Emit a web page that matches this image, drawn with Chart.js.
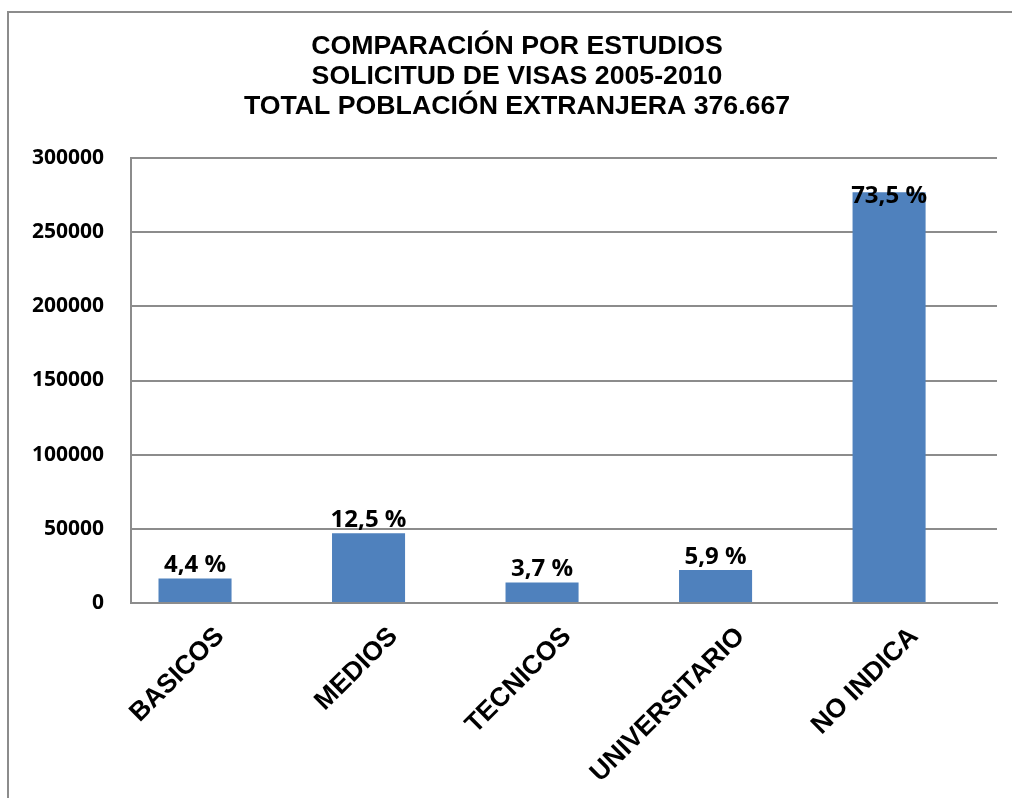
<!DOCTYPE html>
<html lang="es">
<head>
<meta charset="utf-8">
<title>Comparación por estudios</title>
<script src="https://cdn.jsdelivr.net/npm/chart.js@4/dist/chart.umd.min.js"></script>
<style>
    html, body { margin: 0; padding: 0; background: #fff; overflow: hidden; }
    #marco { position: absolute; left: 7px; top: 11px; width: 1100px; height: 900px; border: 2px solid #8c8c8c; pointer-events: none; }
    #contenedor { position: absolute; left: 0; top: 0; width: 1012px; height: 798px; }
</style>
</head>
<body>
<div id="contenedor"><canvas id="grafico"></canvas></div>
<div id="marco"></div>
<script>
// Datos del gráfico
const categorias = ['BASICOS', 'MEDIOS', 'TECNICOS', 'UNIVERSITARIO', 'NO INDICA'];
const solicitudes = [16600, 47100, 13900, 22200, 276900];
const porcentajes = [4.4, 12.5, 3.7, 5.9, 73.5];
const ticksY = [0, 50000, 100000, 150000, 200000, 250000, 300000];
const titulo = ['COMPARACIÓN POR ESTUDIOS', 'SOLICITUD DE VISAS 2005-2010', 'TOTAL POBLACIÓN EXTRANJERA 376.667'];

// Título en tres líneas (centrado como en la imagen original)
const tituloPlugin = {
    id: 'tituloCentrado',
    afterDraw(chart) {
        const ctx = chart.ctx;
        ctx.save();
        ctx.font = 'bold 26.7px "Liberation Sans"';
        ctx.fillStyle = '#000';
        ctx.textAlign = 'center';
        ctx.textBaseline = 'middle';
        titulo.forEach((linea, i) => ctx.fillText(linea, 517, 47 + i * 30));
        ctx.restore();
    }
};

// Porcentajes sobre cada barra
const etiquetasPlugin = {
    id: 'etiquetas',
    afterDatasetsDraw(chart) {
        const { ctx, chartArea } = chart;
        const meta = chart.getDatasetMeta(0);
        ctx.save();
        ctx.font = 'bold 24px "Open Sans"';
        ctx.fillStyle = '#000';
        ctx.textAlign = 'center';
        ctx.textBaseline = 'alphabetic';
        meta.data.forEach((barra, i) => {
            const y = Math.max(barra.y - 6, chartArea.top + 45);
            const texto = porcentajes[i].toFixed(1).replace('.', ',') + ' %';
            ctx.fillText(texto, barra.x, y);
        });
        ctx.restore();
    }
};

const ctx = document.getElementById('grafico').getContext('2d');
new Chart(ctx, {
    type: 'bar',
    data: {
        datasets: [{
            data: solicitudes.map((v, i) => ({ x: i, y: v })),
            backgroundColor: '#4f81bd',
            borderWidth: 0,
            categoryPercentage: 1,
            barPercentage: 0.421
        }]
    },
    options: {
        responsive: true, maintainAspectRatio: false,
        animation: false,
        layout: { padding: { left: 0, right: 15, top: 158, bottom: 0 } },
        plugins: {
            legend: { display: false },
            tooltip: { enabled: false }
        },
        scales: {
            x: {
                type: 'linear',
                offset: false,
                min: -0.369, max: 4.622,
                afterFit: (escala) => { escala.height = 195; },
                afterBuildTicks: (escala) => { escala.ticks = categorias.map((c, i) => ({ value: i })); },
                grid: { drawOnChartArea: false, drawTicks: false },
                border: { color: '#8c8c8c', width: 2 },
                ticks: {
                    autoSkip: false,
                    minRotation: 45, maxRotation: 45,
                    padding: 18,
                    labelOffset: 25,
                    color: '#000',
                    font: { family: 'Liberation Sans', size: 26.5, weight: 'bold' },
                    callback: (valor) => categorias[valor] || ''
                }
            },
            y: {
                min: ticksY[0], max: ticksY[ticksY.length - 1],
                afterFit: (escala) => { escala.width = 131; },
                afterBuildTicks: (escala) => { escala.ticks = ticksY.map(v => ({ value: v })); },
                grid: { color: '#8c8c8c', lineWidth: 2, drawTicks: false },
                border: { color: '#8c8c8c', width: 2 },
                ticks: {
                    padding: 27,
                    color: '#000',
                    font: { family: 'Open Sans', size: 21, weight: 'bold' },
                    callback: (valor) => String(valor)
                }
            }
        }
    },
    plugins: [etiquetasPlugin, tituloPlugin]
});
</script>
</body>
</html>
